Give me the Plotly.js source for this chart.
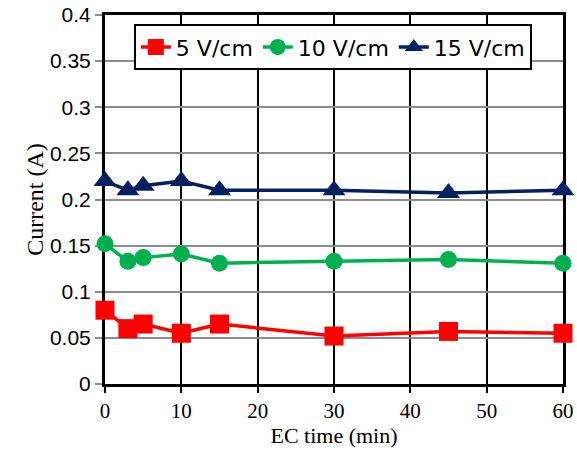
<!DOCTYPE html>
<html><head><meta charset="utf-8">
<script src="https://cdn.plot.ly/plotly-3.0.1.min.js"></script>
<style>body{margin:0;padding:0;background:#fff}#chart{width:577px;height:454px}</style>
</head><body><div id="chart"></div>
<script>
const time = [0, 3, 5, 10, 15, 30, 45, 60];
const current5 = [0.080, 0.060, 0.065, 0.055, 0.065, 0.052, 0.057, 0.055];
const current10 = [0.152, 0.133, 0.137, 0.141, 0.131, 0.133, 0.135, 0.131];
const current15 = [0.220, 0.210, 0.215, 0.220, 0.210, 0.210, 0.207, 0.210];
const names = ['5 V/cm', '10 V/cm', '15 V/cm'];

const traces = [
  {x: time, y: current5, name: names[0], mode: 'lines+markers', cliponaxis: false,
   line: {color: '#ff0000', width: 3.5}, marker: {symbol: 'square', size: 19, color: '#ff0000'}},
  {x: time, y: current10, name: names[1], mode: 'lines+markers', cliponaxis: false,
   line: {color: '#00b050', width: 3.5}, marker: {symbol: 'circle', size: 17, color: '#00b050'}},
  {x: time, y: current15, name: names[2], mode: 'lines+markers', cliponaxis: false,
   line: {color: '#002060', width: 3.5}, marker: {symbol: 'triangle-up', size: 20, color: '#002060'}}
];

const layout = {
  width: 577, height: 454,
  margin: {l: 105, r: 14, t: 15, b: 70},
  paper_bgcolor: '#fff', plot_bgcolor: '#fff',
  showlegend: true,
  legend: {orientation: 'h', x: 0.063, y: 0.975, xanchor: 'left', yanchor: 'top',
           bgcolor: '#fff', bordercolor: '#000', borderwidth: 2,
           font: {family: 'DejaVu Sans, Verdana, sans-serif', size: 22, color: '#000'},
           itemwidth: 30, tracegroupgap: 0},
  xaxis: {range: [0, 60], tickvals: [0,10,20,30,40,50,60], showgrid: true, gridcolor: '#000', gridwidth: 2,
          zeroline: false, showline: true, mirror: true, linecolor: '#000', linewidth: 3, layer: 'below traces',
          ticks: 'outside', ticklen: 6, tickwidth: 2, tickcolor: '#000',
          tickfont: {family: 'Liberation Serif, DejaVu Serif, serif', size: 21, color: '#000'},
          title: {text: 'EC time (min)', standoff: 0, font: {family: 'Liberation Serif, DejaVu Serif, serif', size: 22, color: '#000'}}},
  yaxis: {range: [0, 0.4], dtick: 0.05, showgrid: true, gridcolor: '#8c8c8c', gridwidth: 2,
          zeroline: false, showline: true, mirror: true, linecolor: '#000', linewidth: 3, layer: 'below traces',
          ticks: 'outside', ticklen: 7, tickwidth: 2, tickcolor: '#8c8c8c',
          tickfont: {family: 'Liberation Sans, Arial, sans-serif', size: 21, color: '#000'},
          tickformat: '~g',
          title: {text: 'Current (A)', standoff: 0, font: {family: 'Liberation Serif, DejaVu Serif, serif', size: 24, color: '#000'}}}
};
Plotly.newPlot('chart', traces, layout, {displayModeBar: false});
</script></body></html>
